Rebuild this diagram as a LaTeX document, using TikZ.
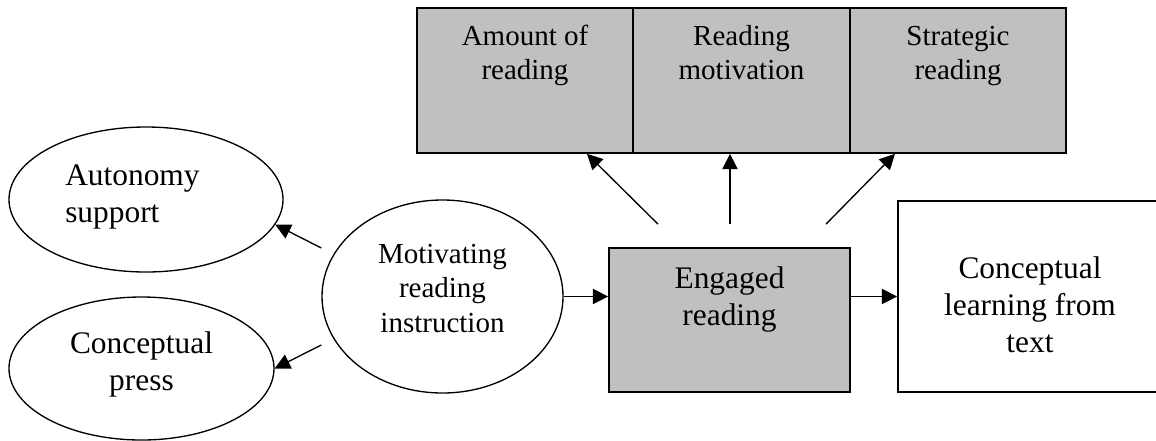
\documentclass[tikz,border=0pt]{standalone}
\usepackage{fontspec}
\setmainfont{Liberation Serif}
\usetikzlibrary{shapes.geometric,arrows.meta,calc}
\definecolor{boxgray}{RGB}{192,192,192}
\newcommand\bigtxt{\fontsize{23.55pt}{27.75pt}\selectfont}
\newcommand\smalltxt{\fontsize{21.75pt}{25.9pt}\selectfont}
\begin{document}
\begin{tikzpicture}[x=0.75pt,y=-0.75pt,
  graybox/.style={draw, line width=1.3pt, fill=boxgray, rectangle, inner sep=0pt},
  whitebox/.style={draw, line width=1.3pt, fill=white, rectangle, inner sep=0pt},
  oval/.style={draw, line width=1pt, ellipse, inner sep=0pt},
  lblbig/.style={inner sep=0pt, anchor=north, align=center, font=\bigtxt},
  lblsmall/.style={inner sep=0pt, anchor=north, align=center, font=\smalltxt},
  arr/.style={line width=1pt, -{Triangle[length=11.5pt,width=11.5pt]}}]
\useasboundingbox (0,0) rectangle (1156,440);
\clip (0,0) rectangle (1156,440);
% top boxes
\node[graybox, minimum width=162pt, minimum height=108.75pt] (amt) at (525,80.5) {};
\node[graybox, minimum width=162.75pt, minimum height=108.75pt] (rm) at (741.5,80.5) {};
\node[graybox, minimum width=162pt, minimum height=108.75pt] (st) at (958,80.5) {};
\node[lblsmall] (amtT) at (525,20.85) {\strut Amount of\\\strut reading};
\node[lblsmall] (rmT) at (741.5,20.85) {\strut Reading\\\strut motivation};
\node[lblsmall] (stT) at (958,20.85) {\strut Strategic\\\strut reading};
% ellipses
\node[oval, minimum width=205.5pt, minimum height=108.75pt] (aut) at (146,199.5) {};
\node[oval, minimum width=198.75pt, minimum height=107.25pt] (cp) at (141.5,368.5) {};
\node[oval, minimum width=180.75pt, minimum height=144.75pt] (mot) at (442.5,296.5) {};
\node[lblbig, anchor=north west, align=left] (autT) at (65,159.1) {\strut Autonomy\\\strut support};
\node[lblbig] (cpT) at (141.5,327.1) {\strut Conceptual\\\strut press};
\node[lblsmall] (motT) at (442.5,238.85) {\strut Motivating\\\strut reading\\\strut instruction};
% engaged and conceptual learning
\node[graybox, minimum width=180.75pt, minimum height=108pt] (eng) at (729.5,320) {};
\node[lblbig] (engT) at (729.5,262.1) {\strut Engaged\\\strut reading};
\node[whitebox, minimum width=198pt, minimum height=143.25pt] (cl) at (1030,296.5) {};
\node[lblbig] (clT) at (1030,252.1) {\strut Conceptual\\\strut learning from\\\strut text};
% connector end points
\coordinate (m1) at ($(mot.west)+(0,-48.5)$);
\coordinate (m2) at ($(mot.west)+(0,48.5)$);
\coordinate (e1) at ($(eng.north)+(-71.5,-23)$);
\coordinate (e2) at ($(eng.north)+(0.5,-23)$);
\coordinate (e3) at ($(eng.north)+(96.5,-23)$);
\coordinate (t1) at ($(amt.south)+(62,0)$);
\coordinate (t3) at ($(st.south)+(-63,0)$);
% connectors
\draw[arr] (m1) -- (aut.-11.6);
\draw[arr] (m2) -- (cp.east);
\draw[arr] (mot.east) -- (mot.east -| eng.west);
\draw[arr] (eng.east |- cl.west) -- (cl.west);
\draw[arr] (e1) -- (t1);
\draw[arr] (e2) -- (e2 |- rm.south);
\draw[arr] (e3) -- (t3);
\end{tikzpicture}
\end{document}
